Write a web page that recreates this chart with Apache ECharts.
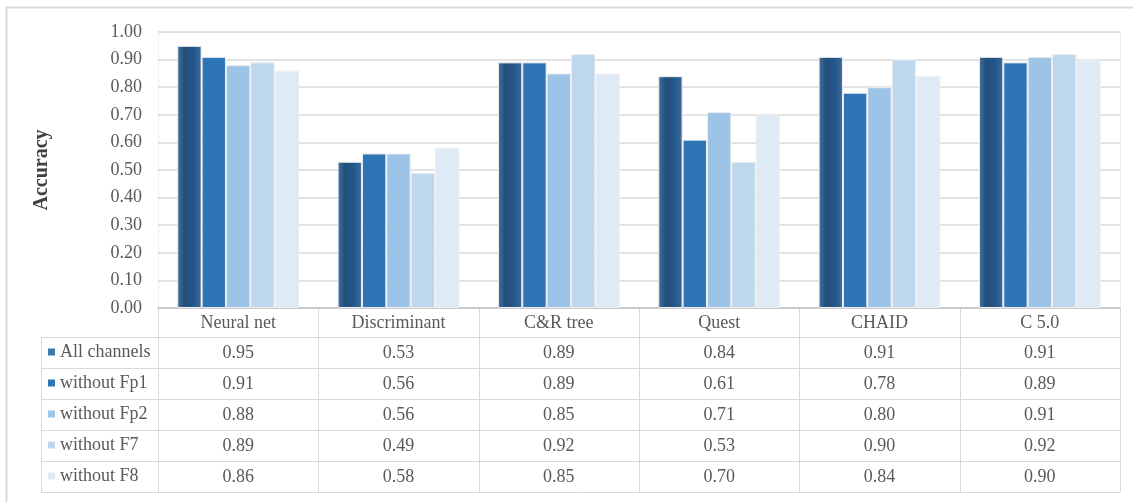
<!DOCTYPE html>
<html>
<head>
<meta charset="utf-8">
<script src="https://cdn.jsdelivr.net/npm/echarts@6/dist/echarts.min.js"></script>
<style>
  html, body { margin: 0; padding: 0; background: #fff; }
  #chart { width: 1133px; height: 502px; }
</style>
</head>
<body>
<div id="chart"></div>
<script>
// Model names along the category axis
const categories = ['Neural net', 'Discriminant', 'C&R tree', 'Quest', 'CHAID', 'C 5.0'];
// Channel configurations (one series each)
const seriesNames = ['All channels', 'without Fp1', 'without Fp2', 'without F7', 'without F8'];
// Accuracy values per configuration
const allChannels = [0.95, 0.53, 0.89, 0.84, 0.91, 0.91];
const withoutFp1  = [0.91, 0.56, 0.89, 0.61, 0.78, 0.89];
const withoutFp2  = [0.88, 0.56, 0.85, 0.71, 0.80, 0.91];
const withoutF7   = [0.89, 0.49, 0.92, 0.53, 0.90, 0.92];
const withoutF8   = [0.86, 0.58, 0.85, 0.70, 0.84, 0.90];
// Value-axis ticks
const yTicks = [0, 0.1, 0.2, 0.3, 0.4, 0.5, 0.6, 0.7, 0.8, 0.9, 1.0];

const seriesValues = [allChannels, withoutFp1, withoutFp2, withoutF7, withoutF8];

const FONT = '"Liberation Serif", "Times New Roman", serif';
const TEXT = '#595959';
const LINE = '#D9D9D9';
const FS = 18;

const firstFill = new echarts.graphic.LinearGradient(0, 0, 1, 0, [
  { offset: 0, color: '#46749f' },
  { offset: 0.3, color: '#214f7b' },
  { offset: 0.65, color: '#24558a' },
  { offset: 1, color: '#3b6c9c' }
]);
const fills = [firstFill, '#2E75B6', '#9DC3E6', '#BDD7EE', '#DEEBF7'];
const legendSwatch = ['#3E78B0', '#2E75B6', '#9DC3E6', '#BDD7EE', '#DEEBF7'];

// Layout of plot area and the data table below it
const W = 1133, H = 502;
const plotL = 158, plotR = 1120, plotT = 32, plotB = 308;
const tableL = 41;
const headerH = 29, rowH = 31;

const chart = echarts.init(document.getElementById('chart'), null, { renderer: 'canvas' });

// Axis label text: category name followed by the value of each series (table column)
function columnLabel(name, idx) {
  const lines = ['{h|' + name + '}'];
  seriesValues.forEach(vals => lines.push('{v|' + vals[idx].toFixed(2) + '}'));
  return lines.join('\n');
}

const graphics = [];
// outer frame
graphics.push({
  type: 'polyline', silent: true,
  shape: { points: [[6.5, H], [6.5, 7.5], [W, 7.5]] },
  style: { stroke: LINE, lineWidth: 2, fill: null }
});
// plot area border
graphics.push({
  type: 'rect', silent: true,
  shape: { x: plotL + 0.5, y: plotT + 0.5, width: plotR - plotL, height: plotB - plotT },
  style: { stroke: '#F0F0F0', lineWidth: 1, fill: null }
});
// table horizontal rules
const tableBottom = plotB + headerH + rowH * seriesNames.length;
for (let r = 0; r <= seriesNames.length; r++) {
  const y = Math.round(plotB + headerH + r * rowH) + 0.5;
  graphics.push({
    type: 'line', silent: true,
    shape: { x1: tableL, y1: y, x2: plotR, y2: y },
    style: { stroke: LINE, lineWidth: 1 }
  });
}
// table vertical rules
const colW = (plotR - plotL) / categories.length;
for (let c = 0; c <= categories.length; c++) {
  const x = Math.round(plotL + c * colW) + 0.5;
  graphics.push({
    type: 'line', silent: true,
    shape: { x1: x, y1: plotB, x2: x, y2: tableBottom },
    style: { stroke: LINE, lineWidth: 1 }
  });
}
graphics.push({
  type: 'line', silent: true,
  shape: { x1: tableL + 0.5, y1: plotB + headerH, x2: tableL + 0.5, y2: tableBottom },
  style: { stroke: LINE, lineWidth: 1 }
});
// legend keys in the table's first column
seriesNames.forEach((name, i) => {
  const cy = plotB + headerH + i * rowH + rowH / 2;
  graphics.push({
    type: 'rect', silent: true,
    shape: { x: 48, y: cy - 4, width: 7, height: 7 },
    style: { fill: legendSwatch[i] }
  });
  graphics.push({
    type: 'text', silent: true,
    x: 60, y: cy,
    style: { text: name, font: FS + 'px ' + FONT, fill: TEXT, verticalAlign: 'middle', align: 'left' }
  });
});

const option = {
  animation: false,
  backgroundColor: '#ffffff',
  grid: { left: plotL, right: W - plotR, top: plotT, bottom: H - plotB, containLabel: false },
  xAxis: {
    type: 'category',
    data: categories,
    axisLine: { show: true, lineStyle: { color: '#C9C9C9', width: 2 } },
    axisTick: { show: false },
    axisLabel: {
      margin: 0,
      interval: 0,
      formatter: (value, idx) => columnLabel(value, idx),
      rich: {
        h: { fontFamily: FONT, fontSize: FS, color: TEXT, lineHeight: headerH + 1, align: 'center' },
        v: { fontFamily: FONT, fontSize: FS, color: TEXT, lineHeight: rowH, align: 'center' }
      }
    }
  },
  yAxis: {
    type: 'value',
    min: yTicks[0],
    max: yTicks[yTicks.length - 1],
    interval: 0.1,
    name: 'Accuracy',
    nameLocation: 'middle',
    nameRotate: 90,
    nameGap: 106,
    nameTextStyle: { fontFamily: FONT, fontSize: 20, fontWeight: 'bold', color: '#404040' },
    axisLine: { show: false },
    axisTick: { show: false },
    axisLabel: {
      margin: 16,
      fontFamily: FONT, fontSize: FS, color: TEXT,
      formatter: v => v.toFixed(2)
    },
    splitLine: { lineStyle: { color: LINE, width: 1.5 } }
  },
  series: seriesNames.map((name, i) => ({
    name: name,
    type: 'bar',
    data: seriesValues[i],
    barGap: '0%',
    barCategoryGap: '24%',
    itemStyle: { color: fills[i], borderColor: '#EFEFEF', borderWidth: 1 }
  })),
  graphic: graphics
};

chart.setOption(option);
</script>
</body>
</html>
